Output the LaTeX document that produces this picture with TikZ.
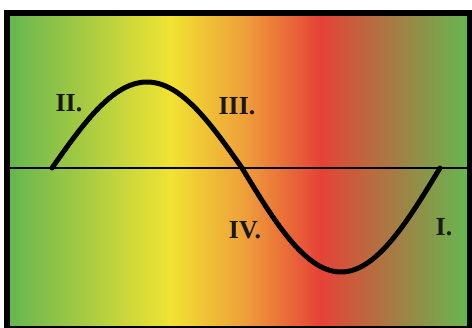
\documentclass[tikz,border=0pt]{standalone}
\usepackage{fontspec}
\setmainfont{Liberation Serif}
\usetikzlibrary{calc}

\begin{document}
\begin{tikzpicture}[
    x=1pt, y=-1pt,
    font=\bfseries\fontsize{26}{26}\selectfont,
]

\definecolor{leafGreen}{RGB}{102, 182, 80}
\definecolor{sunYellow}{RGB}{241, 227, 50}
\definecolor{heatOrange}{RGB}{238, 158, 58}
\definecolor{heatRed}{RGB}{230, 66, 56}

\tikzset{
    wave/.style = {line width=5pt, line cap=round, black},
    axisline/.style = {line width=2.8pt, black},
    frame/.style = {line width=6pt, black},
    phase/.style = {text=black!90, inner sep=0pt}
}

\useasboundingbox (0,0) rectangle (472,328);

% =========== BACKGROUND ===========
\foreach \xa/\xb/\ca/\cb in {10/170.5/leafGreen/sunYellow,
                             170/245.5/sunYellow/heatOrange,
                             245/320.5/heatOrange/heatRed,
                             320/467/heatRed/leafGreen}
    \fill[left color=\ca, right color=\cb] (\xa,16) rectangle (\xb,326);

% =========== AXIS AND WAVE ===========
\coordinate (axl) at (10,168);
\coordinate (axr) at (467,168);
\draw[axisline] (axl) -- (axr);

\draw[wave] plot[domain=52:242, samples=60, smooth]
    (\x, {168 - 86*sin((\x-52)/190*180)});
\draw[wave] plot[domain=242:440, samples=60, smooth]
    (\x, {168 + 104*sin((\x-242)/198*180)});

% Labels
\node[phase] (p2) at (69,103) {II.};
\node[phase] (p3) at (237,106) {III.};
\node[phase] (p4) at (245,230) {IV.};
\node[phase] (p1) at (444,227) {I.};

% Frame
\draw[frame] (7,13) rectangle (469.5,329.5);

\end{tikzpicture}
\end{document}
